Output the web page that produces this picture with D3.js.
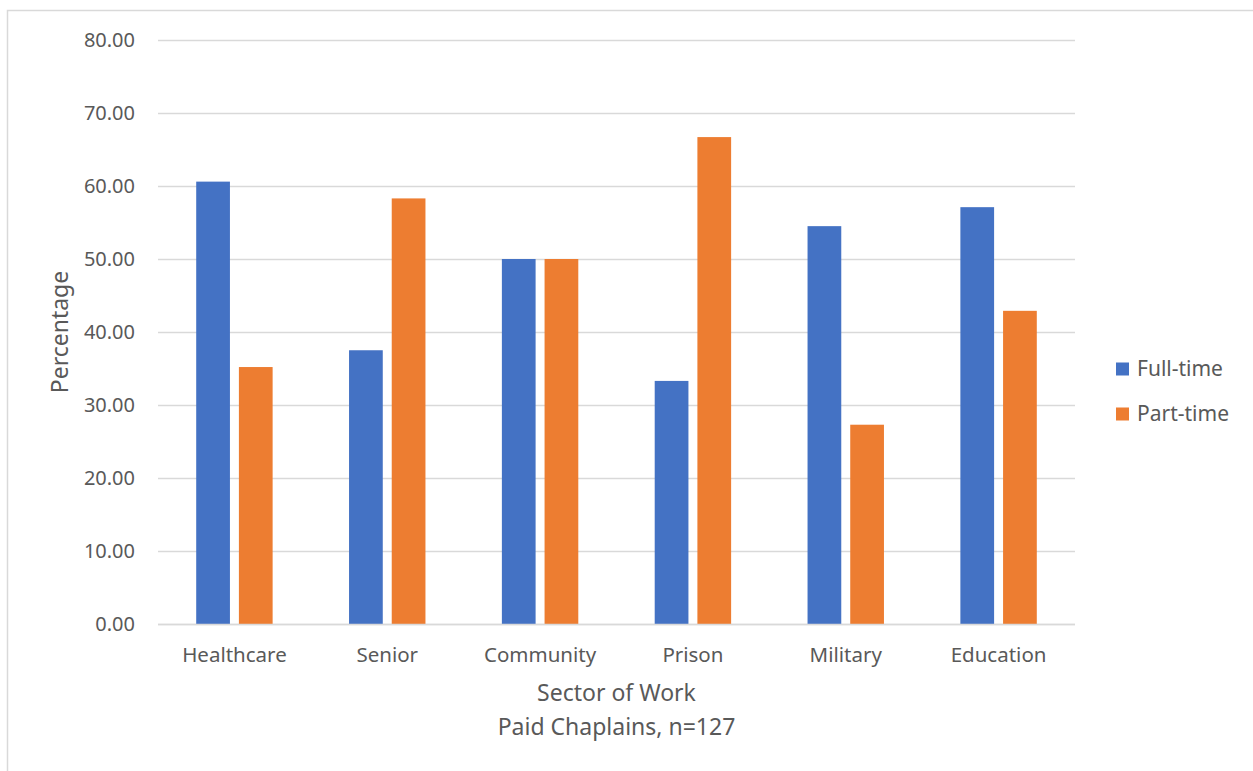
<!DOCTYPE html>
<html><head><meta charset="utf-8">
<script src="https://cdn.jsdelivr.net/npm/d3@7"></script>
<style>
html,body{margin:0;padding:0;background:#fff;}
svg{display:block;font-family:"Noto Sans","Open Sans",sans-serif;}
</style></head>
<body>
<svg id="chart" width="1253" height="771"></svg>
<script>
const categories = ["Healthcare","Senior","Community","Prison","Military","Education"];
const seriesNames = ["Full-time","Part-time"];
const fullTime = [60.6, 37.5, 50.0, 33.3, 54.5, 57.1];
const partTime = [35.2, 58.3, 50.0, 66.7, 27.3, 42.9];
const yTicks = [0,10,20,30,40,50,60,70,80];
const colors = ["#4472C4","#ED7D31"];

(function(){
const svg = d3.select("#chart");
const textColor = "#595959";

// outer border
svg.append("path").attr("d","M7.5,771 L7.5,10.5 L1253,10.5")
  .attr("fill","none").attr("stroke","#d9d9d9").attr("stroke-width",1.5);

const pL=158, pR=1075, pT=40, pB=624;
const x = d3.scaleBand().domain(categories).range([pL,pR]).paddingInner(0.5).paddingOuter(0.25);
const xs = d3.scaleBand().domain(seriesNames).range([0,x.bandwidth()]).paddingInner(0.21).paddingOuter(0);
const y = d3.scaleLinear().domain([0,80]).range([pB,pT]);

// gridlines
svg.append("g").selectAll("line").data(yTicks).join("line")
  .attr("x1",pL).attr("x2",pR)
  .attr("y1",d=>Math.round(y(d))+0.5).attr("y2",d=>Math.round(y(d))+0.5)
  .attr("stroke","#d9d9d9").attr("stroke-width",1.3);

// y labels
svg.append("g").selectAll("text").data(yTicks).join("text")
  .attr("x",135).attr("y",d=>y(d)).attr("dy","0.35em")
  .attr("text-anchor","end").attr("fill",textColor).attr("font-size",20)
  .text(d=>d.toFixed(2));

// bars
const data = categories.map((c,i)=>({cat:c, vals:[fullTime[i],partTime[i]]}));
const g = svg.append("g");
data.forEach(d=>{
  seriesNames.forEach((s,j)=>{
    g.append("rect")
      .attr("x",x(d.cat)+xs(s)).attr("width",xs.bandwidth())
      .attr("y",y(d.vals[j])).attr("height",y(0)-y(d.vals[j]))
      .attr("fill",colors[j]);
  });
});

// baseline
svg.append("line").attr("x1",pL).attr("x2",pR)
  .attr("y1",Math.round(y(0))+0.5).attr("y2",Math.round(y(0))+0.5)
  .attr("stroke","#d9d9d9").attr("stroke-width",1.3);

// category labels
svg.append("g").selectAll("text").data(categories).join("text")
  .attr("x",d=>x(d)+x.bandwidth()/2).attr("y",655).attr("dy","0.35em")
  .attr("text-anchor","middle").attr("fill",textColor).attr("font-size",20.5)
  .text(d=>d);

// axis titles
svg.append("text").attr("x",(pL+pR)/2).attr("y",693).attr("dy","0.35em")
  .attr("text-anchor","middle").attr("fill",textColor).attr("font-size",23).text("Sector of Work");
svg.append("text").attr("x",(pL+pR)/2).attr("y",727).attr("dy","0.35em")
  .attr("text-anchor","middle").attr("fill",textColor).attr("font-size",23).text("Paid Chaplains, n=127");
svg.append("text").attr("transform","translate(60,332) rotate(-90)").attr("dy","0.35em")
  .attr("text-anchor","middle").attr("fill",textColor).attr("font-size",23).text("Percentage");

// legend
const lg = svg.append("g");
seriesNames.forEach((s,j)=>{
  const cy = 369 + j*45;
  lg.append("rect").attr("x",1116).attr("y",cy-6.5).attr("width",13).attr("height",13).attr("fill",colors[j]);
  lg.append("text").attr("x",1137).attr("y",cy).attr("dy","0.35em")
    .attr("fill",textColor).attr("font-size",21).text(s);
});
})();
</script>
</body></html>
